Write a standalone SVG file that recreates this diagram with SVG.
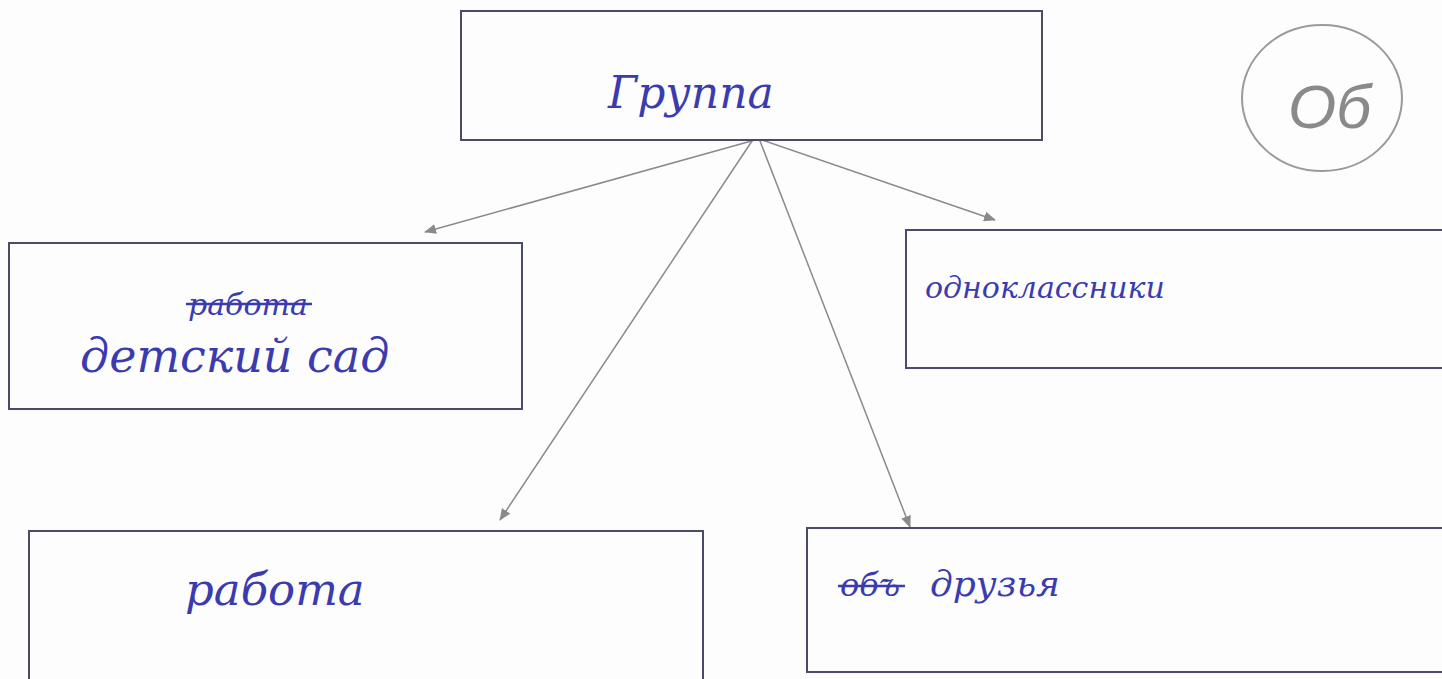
<svg xmlns="http://www.w3.org/2000/svg" width="1442" height="679" viewBox="0 0 1442 679">
<style>
.box{fill:none;stroke:#4a4a6a;stroke-width:2}
.hw{font-family:"DejaVu Serif","Liberation Serif",serif;font-style:italic;fill:#3b3bb0}
.con{stroke:#8a8a8a;stroke-width:1.5;fill:none}
.strike{stroke:#3b3bb0;stroke-width:2.5}
</style>
<defs>
<marker id="arr" markerWidth="12" markerHeight="10" refX="11" refY="5" orient="auto" markerUnits="userSpaceOnUse">
<path d="M0,0 L12,5 L0,10 Z" fill="#8a8a8a"/>
</marker>
</defs>
<rect width="1442" height="679" fill="#fdfdfd"/>
<g id="connectors">
<line class="con" x1="755" y1="140" x2="425" y2="232" marker-end="url(#arr)"/>
<line class="con" x1="752" y1="141" x2="500" y2="520" marker-end="url(#arr)"/>
<line class="con" x1="760" y1="141" x2="910" y2="527" marker-end="url(#arr)"/>
<line class="con" x1="762" y1="140" x2="995" y2="220" marker-end="url(#arr)"/>
</g>
<g id="node-group">
<rect class="box" x="461" y="11" width="581" height="129"/>
<text class="hw" x="608" y="108" font-size="44">Группа</text>
</g>
<g id="node-kindergarten">
<rect class="box" x="9" y="243" width="513" height="166"/>
<text class="hw" x="188" y="315" font-size="30">работа</text>
<line class="strike" x1="186" y1="304" x2="312" y2="304"/>
<text class="hw" x="80" y="372" font-size="46">детский сад</text>
</g>
<g id="node-classmates">
<rect class="box" x="906" y="230" width="540" height="138"/>
<text class="hw" x="925" y="298" font-size="30">одноклассники</text>
</g>
<g id="node-work">
<rect class="box" x="29" y="531" width="674" height="152"/>
<text class="hw" x="185" y="605" font-size="45">работа</text>
</g>
<g id="node-friends">
<rect class="box" x="807" y="528" width="640" height="144"/>
<text class="hw" x="840" y="596" font-size="32">объ</text>
<line class="strike" x1="838" y1="586" x2="905" y2="586"/>
<text class="hw" x="930" y="596" font-size="36">друзья</text>
</g>
<g id="mark">
<ellipse cx="1322" cy="98" rx="80" ry="73" fill="none" stroke="#9a9a9a" stroke-width="2"/>
<text x="1288" y="128" font-family="Liberation Sans, sans-serif" font-style="italic" font-size="62" fill="#8a8a8a">Об</text>
</g>
</svg>
